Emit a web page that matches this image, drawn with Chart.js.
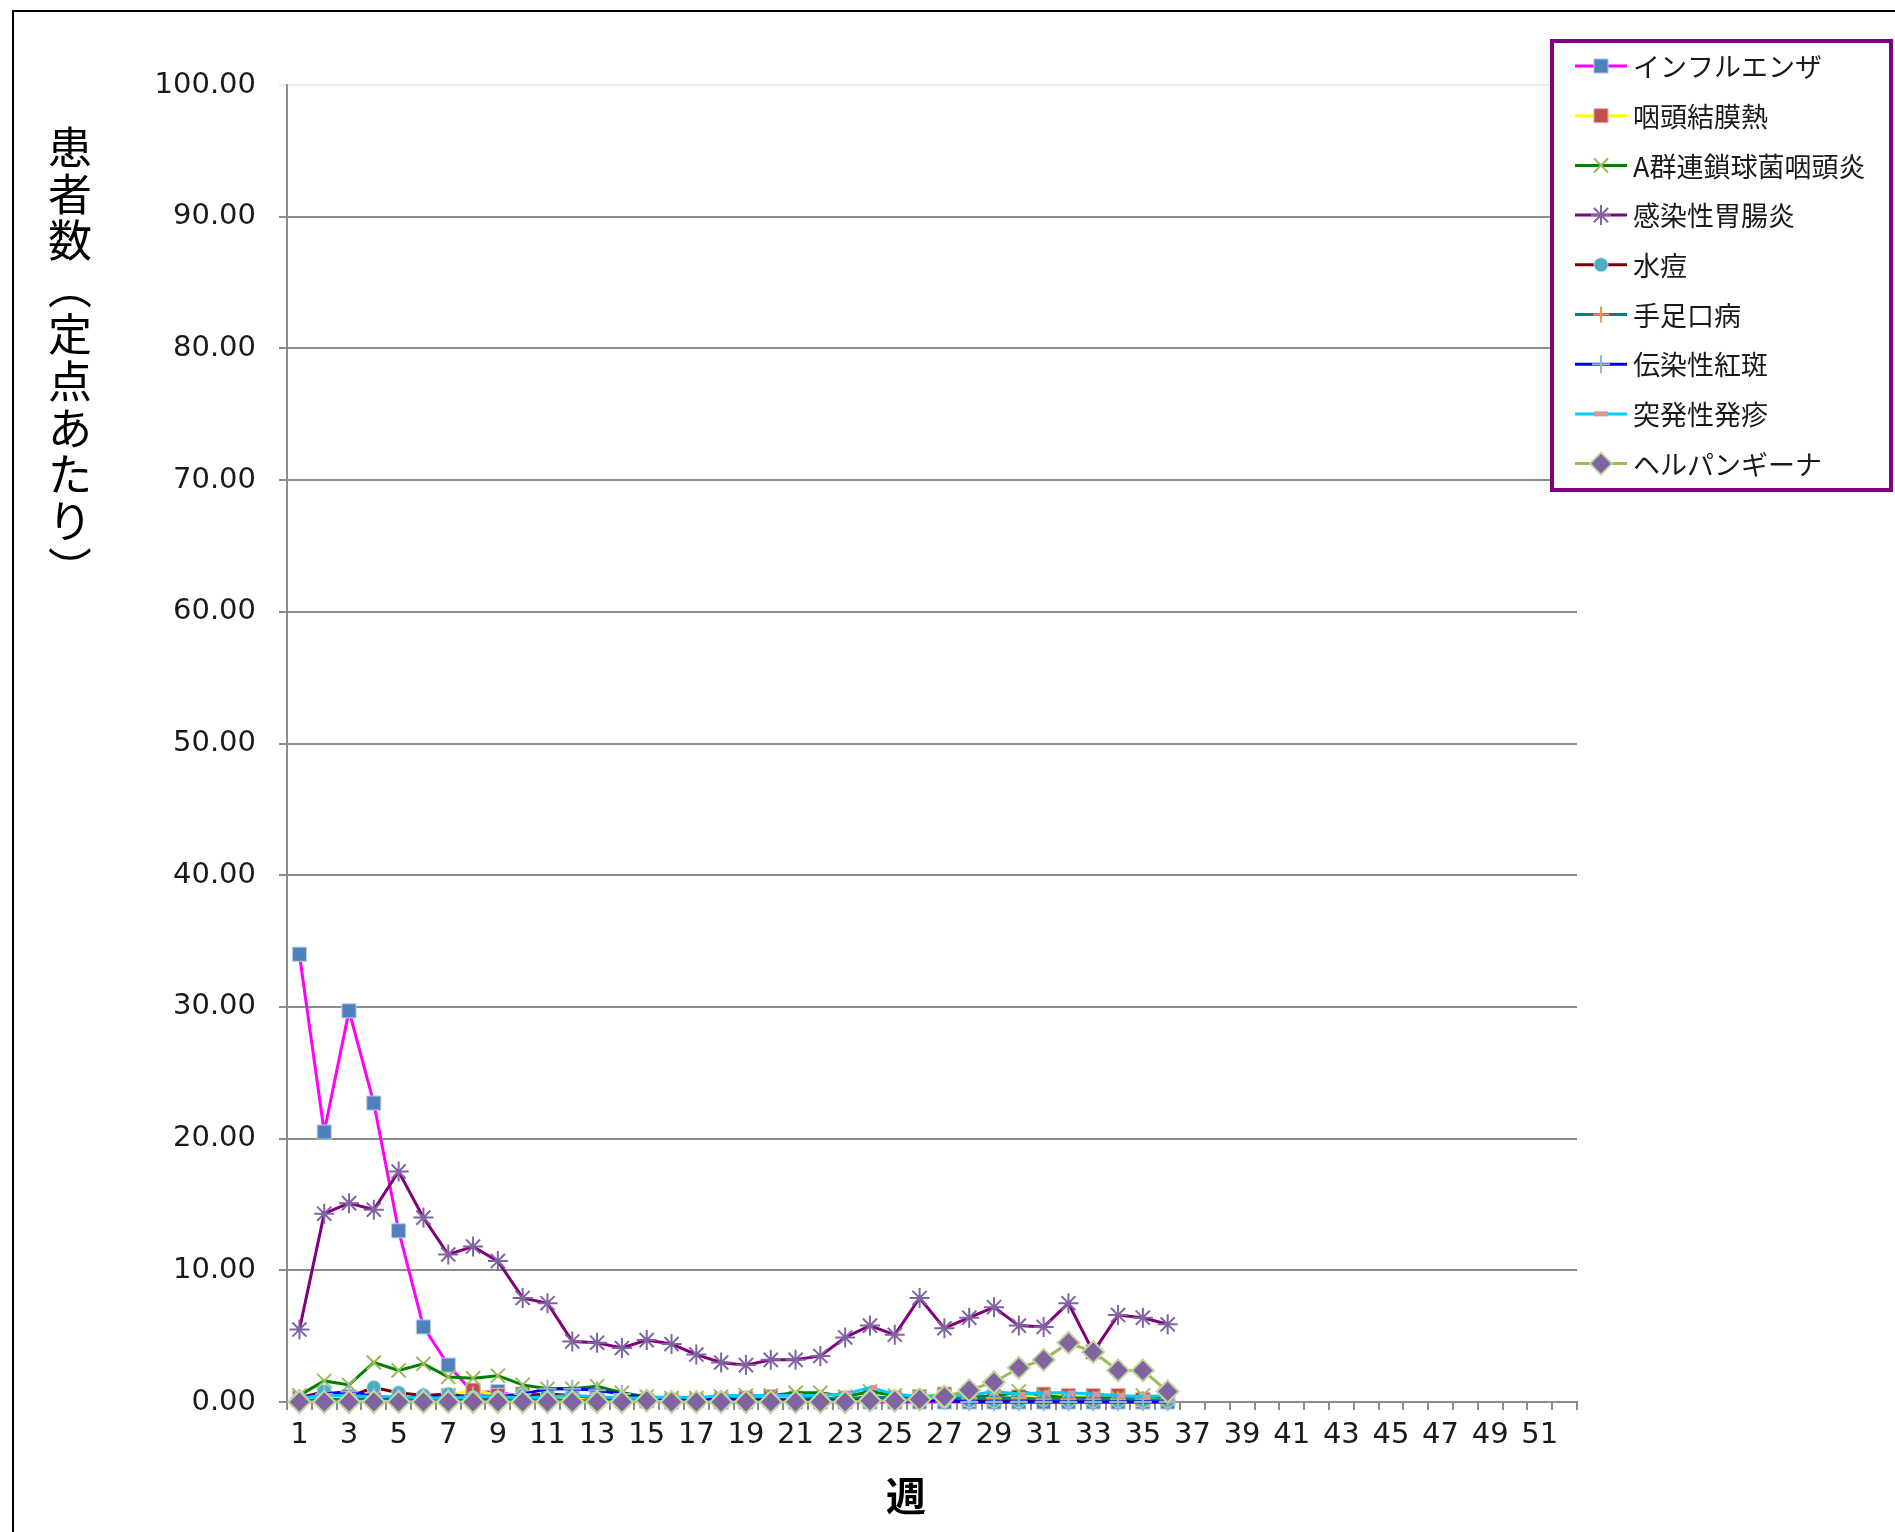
<!DOCTYPE html>
<html lang="ja">
<head>
<meta charset="utf-8">
<title>定点あたり患者数</title>
<script src="https://cdn.jsdelivr.net/npm/chart.js@4.4.1/dist/chart.umd.min.js"></script>
<style>
    html, body { margin: 0; padding: 0; background: #fff; }
    #wrap { width: 1895px; height: 1532px; position: relative; }
</style>
</head>
<body>
<div id="wrap"><canvas id="weeklyChart"></canvas></div>
<script>
// Week labels (1..52)
const weeks = Array.from({ length: 52 }, (_, i) => String(i + 1));
const yTicks = [0, 10, 20, 30, 40, 50, 60, 70, 80, 90, 100];

// Series names
const seriesNames = [
    "インフルエンザ",
    "咽頭結膜熱",
    "A群連鎖球菌咽頭炎",
    "感染性胃腸炎",
    "水痘",
    "手足口病",
    "伝染性紅斑",
    "突発性発疹",
    "ヘルパンギーナ",
];

// Values per week (weeks 1..36)
const influenza = [34.0, 20.5, 29.7, 22.7, 13.0, 5.7, 2.8, 0.7, 0.8, 0.3, 0.2, 0.2, 0.1, 0.1, 0.1, 0.0, 0.1, 0.0, 0.0, 0.1, 0.0, 0.0, 0.0, 0.0, 0.0, 0.0, 0.0, 0.0, 0.0, 0.0, 0.0, 0.0, 0.0, 0.0, 0.0, 0.0];
const pharyngoconjunctival = [0.3, 0.6, 0.4, 0.2, 0.3, 0.2, 0.5, 0.9, 0.5, 0.6, 0.4, 0.3, 0.2, 0.2, 0.1, 0.1, 0.1, 0.2, 0.3, 0.4, 0.3, 0.2, 0.3, 0.4, 0.3, 0.4, 0.6, 0.2, 0.3, 0.4, 0.6, 0.5, 0.5, 0.5, 0.2, 0.3];
const strepA = [0.5, 1.6, 1.3, 3.0, 2.4, 2.9, 1.9, 1.8, 2.0, 1.3, 1.0, 1.0, 1.2, 0.7, 0.4, 0.3, 0.3, 0.4, 0.5, 0.5, 0.7, 0.7, 0.4, 0.8, 0.5, 0.4, 0.5, 0.5, 0.4, 0.8, 0.5, 0.3, 0.3, 0.3, 0.5, 0.3];
const gastroenteritis = [5.5, 14.3, 15.1, 14.6, 17.5, 14.0, 11.2, 11.8, 10.7, 7.9, 7.5, 4.6, 4.5, 4.1, 4.7, 4.4, 3.6, 3.0, 2.8, 3.2, 3.2, 3.5, 4.9, 5.8, 5.1, 7.9, 5.6, 6.4, 7.2, 5.8, 5.7, 7.5, 3.8, 6.6, 6.4, 5.9];
const varicella = [0.3, 0.8, 0.4, 1.1, 0.7, 0.5, 0.6, 0.3, 0.3, 0.5, 0.6, 0.5, 0.3, 0.2, 0.2, 0.1, 0.2, 0.2, 0.2, 0.2, 0.1, 0.2, 0.2, 0.3, 0.2, 0.2, 0.1, 0.1, 0.1, 0.1, 0.2, 0.1, 0.1, 0.1, 0.1, 0.1];
const handFootMouth = [0.1, 0.2, 0.2, 0.3, 0.2, 0.2, 0.1, 0.2, 0.1, 0.2, 0.2, 0.1, 0.1, 0.1, 0.1, 0.1, 0.1, 0.1, 0.2, 0.2, 0.2, 0.3, 0.2, 0.4, 0.3, 0.3, 0.3, 0.3, 0.3, 0.3, 0.2, 0.2, 0.2, 0.2, 0.2, 0.1];
const erythema = [0.3, 0.6, 0.8, 0.4, 0.3, 0.4, 0.4, 0.5, 0.4, 0.6, 1.0, 1.0, 0.9, 0.6, 0.3, 0.2, 0.2, 0.2, 0.1, 0.2, 0.1, 0.1, 0.1, 0.1, 0.1, 0.1, 0.1, 0.0, 0.0, 0.0, 0.0, 0.0, 0.0, 0.0, 0.0, 0.0];
const exanthem = [0.3, 0.5, 0.5, 0.4, 0.4, 0.3, 0.3, 0.4, 0.4, 0.3, 0.4, 0.5, 0.4, 0.3, 0.3, 0.4, 0.3, 0.5, 0.5, 0.5, 0.5, 0.5, 0.6, 1.1, 0.6, 0.4, 0.5, 0.5, 0.8, 0.6, 0.7, 0.7, 0.6, 0.5, 0.4, 0.5];
const herpangina = [0.0, 0.0, 0.0, 0.0, 0.0, 0.0, 0.0, 0.0, 0.0, 0.0, 0.0, 0.0, 0.0, 0.0, 0.1, 0.0, 0.0, 0.0, 0.0, 0.0, 0.0, 0.0, 0.0, 0.1, 0.1, 0.2, 0.4, 0.9, 1.5, 2.6, 3.2, 4.5, 3.8, 2.4, 2.4, 0.8];

const seriesValues = [influenza, pharyngoconjunctival, strepA, gastroenteritis, varicella, handFootMouth, erythema, exanthem, herpangina];

// Line colour / marker per series (Excel style)
const seriesStyles = [
    { line: "#FF00FF", style: "rect", radius: 10, fill: "#4F81BD", stroke: "#B9CDE5", width: 1 },
    { line: "#FFFF00", style: "rect", radius: 10, fill: "#C0504D", stroke: "#E6B9B8", width: 1 },
    { line: "#008000", style: "crossRot", radius: 10, fill: "#9BBB59", stroke: "#9BBB59", width: 2 },
    { line: "#800080", style: "star", radius: 10, fill: "#8064A2", stroke: "#8064A2", width: 2 },
    { line: "#800000", style: "circle", radius: 7, fill: "#4BACC6", stroke: "#B7DEE8", width: 1 },
    { line: "#008080", style: "cross", radius: 8, fill: "#F79646", stroke: "#F79646", width: 2 },
    { line: "#0000FF", style: "cross", radius: 9, fill: "#95B3D7", stroke: "#95B3D7", width: 2 },
    { line: "#00CCFF", style: "dash", radius: 7, fill: "#D99694", stroke: "#D99694", width: 5 },
    { line: "#9BBB59", style: "rectRot", radius: 11, fill: "#8064A2", stroke: "#C3D69B", width: 2 },
];

const yTitle = "患者数（定点あたり）";
const xTitle = "週";

const gridGray = "#8c8c8c";
const tickFont = { family: "'DejaVu Sans', sans-serif", size: 29 };
const jpFont = "'Noto Sans CJK JP', 'Noto Sans', sans-serif";

// Build datasets
const datasets = seriesNames.map((name, i) => {
    const s = seriesStyles[i];
    return {
        label: name,
        data: seriesValues[i],
        borderColor: s.line,
        backgroundColor: s.fill,
        borderWidth: 3,
        tension: 0,
        clip: false,
        pointStyle: s.style,
        pointRadius: s.radius,
        pointBackgroundColor: s.fill,
        pointBorderColor: s.stroke,
        pointBorderWidth: s.width,
        order: seriesNames.length - i,
    };
});

// Simple marker painter for the legend
function drawMarker(ctx, s, x, y) {
    const r = s.radius;
    ctx.save();
    ctx.fillStyle = s.fill;
    ctx.strokeStyle = s.stroke;
    ctx.lineWidth = s.width;
    ctx.beginPath();
    if (s.style === "rect") {
        const h = r * Math.SQRT1_2;
        ctx.rect(x - h, y - h, 2 * h, 2 * h);
        ctx.fill();
        ctx.stroke();
    } else if (s.style === "rectRot") {
        ctx.moveTo(x - r, y);
        ctx.lineTo(x, y - r);
        ctx.lineTo(x + r, y);
        ctx.lineTo(x, y + r);
        ctx.closePath();
        ctx.fill();
        ctx.stroke();
    } else if (s.style === "circle") {
        ctx.arc(x, y, r, 0, Math.PI * 2);
        ctx.fill();
        ctx.stroke();
    } else if (s.style === "dash") {
        ctx.moveTo(x - r, y);
        ctx.lineTo(x + r, y);
        ctx.stroke();
    } else {
        const d = r * Math.SQRT1_2;
        if (s.style === "cross" || s.style === "star") {
            ctx.moveTo(x, y - r); ctx.lineTo(x, y + r);
            ctx.moveTo(x - r, y); ctx.lineTo(x + r, y);
        }
        if (s.style === "crossRot" || s.style === "star") {
            ctx.moveTo(x - d, y - d); ctx.lineTo(x + d, y + d);
            ctx.moveTo(x + d, y - d); ctx.lineTo(x - d, y + d);
        }
        ctx.stroke();
    }
    ctx.restore();
}

// Frame, legend and axis titles
const decorPlugin = {
    id: "decor",
    beforeDraw(chart) {
        const ctx = chart.ctx;
        ctx.save();
        ctx.fillStyle = "#fff";
        ctx.fillRect(0, 0, chart.width, chart.height);
        ctx.strokeStyle = "#000";
        ctx.lineWidth = 2;
        ctx.strokeRect(13, 11, chart.width + 20, chart.height + 20);
        ctx.restore();
    },
    afterDraw(chart) {
        const ctx = chart.ctx;
        ctx.save();

        // legend box
        ctx.fillStyle = "#fff";
        ctx.fillRect(1552, 41, 339, 449);
        ctx.strokeStyle = "#800080";
        ctx.lineWidth = 4;
        ctx.strokeRect(1552, 41, 339, 449);

        ctx.font = "27px " + jpFont;
        ctx.textBaseline = "middle";
        ctx.textAlign = "left";
        chart.data.datasets.forEach((ds, i) => {
            const y = 66 + i * 49.7;
            const s = seriesStyles[i];
            ctx.strokeStyle = s.line;
            ctx.lineWidth = 3;
            ctx.beginPath();
            ctx.moveTo(1575, y);
            ctx.lineTo(1627, y);
            ctx.stroke();
            drawMarker(ctx, s, 1601, y);
            ctx.fillStyle = "#1a1a1a";
            ctx.fillText(ds.label, 1633, y + 1);
        });

        // vertical y-axis title, one character per row
        ctx.fillStyle = "#000";
        ctx.font = "44px " + jpFont;
        ctx.textAlign = "center";
        ctx.textBaseline = "middle";
        Array.from(yTitle).forEach((ch, i) => {
            const y = 147 + i * 46.8;
            if (ch === "（" || ch === "）") {
                ctx.save();
                ctx.translate(70, y);
                ctx.rotate(Math.PI / 2);
                ctx.fillText(ch, 0, 0);
                ctx.restore();
            } else {
                ctx.fillText(ch, 70, y);
            }
        });

        // x-axis title
        ctx.font = "bold 40px " + jpFont;
        ctx.fillText(xTitle, 906, 1496);
        ctx.restore();
    },
};

new Chart(document.getElementById("weeklyChart"), {
    type: "line",
    data: { labels: weeks, datasets },
    options: {
        responsive: true,
        maintainAspectRatio: false,
        animation: false,
        events: [],
        layout: {
            autoPadding: false,
            padding: { left: 0, right: 318, top: 85, bottom: 0 },
        },
        plugins: {
            legend: { display: false },
            tooltip: { enabled: false },
        },
        scales: {
            x: {
                type: "category",
                offset: true,
                afterFit: (scale) => { scale.height = 130; },
                grid: {
                    offset: true,
                    drawOnChartArea: false,
                    drawTicks: true,
                    tickLength: 8,
                    color: gridGray,
                    lineWidth: 2,
                },
                border: { color: gridGray, width: 2 },
                ticks: {
                    autoSkip: false,
                    maxRotation: 0,
                    minRotation: 0,
                    padding: 8,
                    color: "#1a1a1a",
                    font: tickFont,
                    callback: (val, idx) => (idx % 2 === 0 ? weeks[idx] : ""),
                },
            },
            y: {
                min: 0,
                max: 100,
                afterFit: (scale) => { scale.width = 287; },
                afterBuildTicks: (scale) => {
                    scale.ticks = yTicks.map((v) => ({ value: v }));
                },
                grid: {
                    drawTicks: true,
                    tickLength: 8,
                    lineWidth: 2,
                    color: (c) => (c.tick && c.tick.value === 100 ? "#ececec" : gridGray),
                },
                border: { color: gridGray, width: 2 },
                ticks: {
                    padding: 23,
                    color: "#1a1a1a",
                    font: tickFont,
                    callback: (v) => Number(v).toFixed(2),
                },
            },
        },
    },
    plugins: [decorPlugin],
});
</script>
</body>
</html>
